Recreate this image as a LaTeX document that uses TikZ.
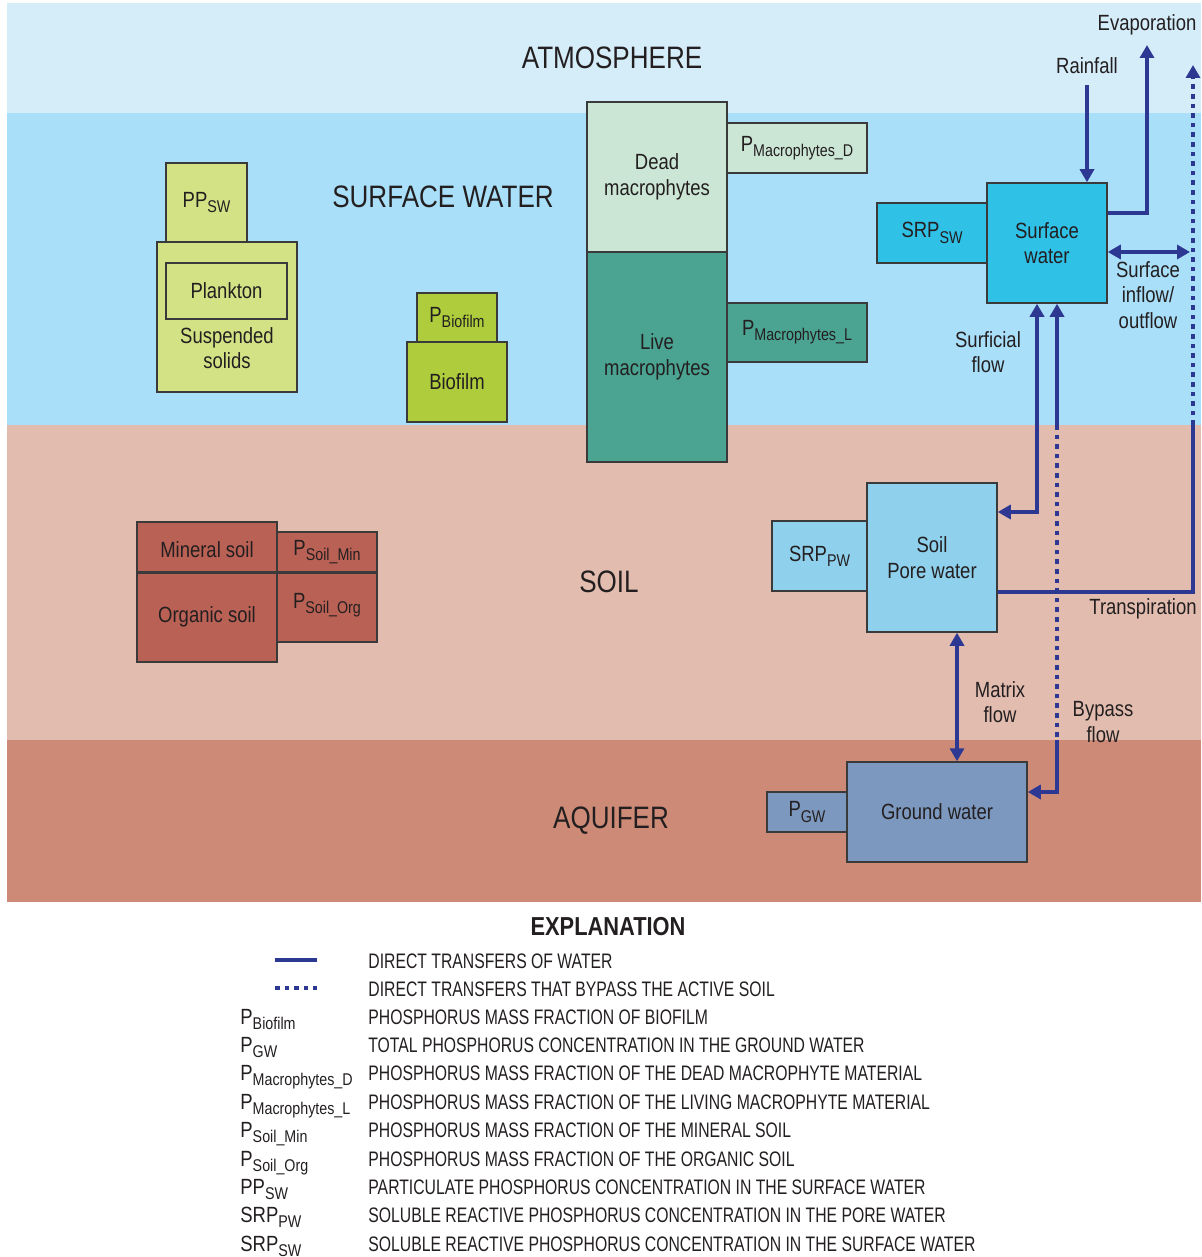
\documentclass[tikz,border=0pt]{standalone}
\usepackage{fontspec}
\setmainfont{Liberation Sans}[FakeStretch=0.84]
\newfontfamily\legfont{Liberation Sans}[FakeStretch=0.75]
\usepackage{tikz}
\usetikzlibrary{arrows.meta,positioning,calc}
\definecolor{atmo}{HTML}{D5ECF9}
\definecolor{swband}{HTML}{A9DFF9}
\definecolor{soilband}{HTML}{E2BDAF}
\definecolor{aqband}{HTML}{CD8B77}
\definecolor{flowblue}{HTML}{2D3893}
\definecolor{ink}{HTML}{231F20}
\definecolor{boxline}{HTML}{3A3A3A}
\definecolor{ssfill}{HTML}{D3E285}
\definecolor{biofill}{HTML}{AECC3B}
\definecolor{deadfill}{HTML}{CCE6D5}
\definecolor{livefill}{HTML}{4BA391}
\definecolor{swfill}{HTML}{30C1E7}
\definecolor{porefill}{HTML}{8FD0EC}
\definecolor{gwfill}{HTML}{7C98BE}
\definecolor{soilfill}{HTML}{BA6155}
\newcommand\lowsub[1]{\raisebox{-0.45ex}{\fontsize{8.5}{9}\selectfont #1}}

\begin{document}
\begin{tikzpicture}[
  x=0.5pt, y=-0.5pt,
  every node/.style = {font=\fontsize{11}{12.75}\selectfont, text=ink},
  box/.style   = {draw=boxline, line width=0.75pt, inner sep=0pt, align=center},
  zone/.style  = {font=\fontsize{15.5}{18}\selectfont},
  lbl/.style   = {align=center},
  flow/.style  = {draw=flowblue, line width=2pt},
  bypass/.style = {draw=flowblue, line width=2.2pt, dash pattern=on 2.3pt off 2.5pt},
  legtxt/.style = {anchor=base west, inner sep=0pt, font=\legfont\fontsize{10.5}{12}\selectfont},
  legsym/.style = {anchor=base west, inner sep=0pt},
  > = {Triangle[width=7pt,length=6.5pt]},
]
\useasboundingbox (0,0) rectangle (1201,1257);

%% ── Layers ───────────────────────────────────────────────────────────────────
\fill[atmo]     (7,3)   rectangle (1201,113);
\fill[swband]   (7,113) rectangle (1201,425);
\fill[soilband] (7,425) rectangle (1201,740);
\fill[aqband]   (7,740) rectangle (1201,902);

\node[zone] (atmoLbl) at (612,58)  {ATMOSPHERE};
\node[zone] (swLbl)   at (443,197) {SURFACE WATER};
\node[zone] (soilLbl) at (609,582) {SOIL};
\node[zone] (aqLbl)   at (611,821) {AQUIFER};

%% ── Suspended solids and biofilm ─────────────────────────────────────────────
\node[box, fill=ssfill, minimum width=40.5pt, minimum height=39.5pt]
  (ppsw) at (206.5,202.5) {PP\lowsub{SW}};
\node[box, fill=ssfill, minimum width=70pt, minimum height=75pt]
  (susp) at (227,317) {};
\node[box, fill=ssfill, minimum width=60.5pt, minimum height=28pt]
  (plank) at (226.5,291) {Plankton};
\node[lbl] (suspTxt) at (227,348) {Suspended\\solids};

\node[box, fill=biofill, minimum width=40pt, minimum height=24.5pt]
  (pbio) at (457,317.5) {P\lowsub{Biofilm}};
\node[box, fill=biofill, minimum width=50pt, minimum height=40pt]
  (bio) at (457,382) {Biofilm};

%% ── Macrophytes ──────────────────────────────────────────────────────────────
\node[box, fill=deadfill, minimum width=70pt, minimum height=75pt]
  (dead) at (657,177) {Dead\\macrophytes};
\node[box, fill=livefill, minimum width=70pt, minimum height=105pt]
  (live) at (657,357) {Live\\macrophytes};
\node[box, fill=deadfill, minimum width=70pt, minimum height=25pt]
  (pmd) at (797,148) {P\lowsub{Macrophytes\_D}};
\node[box, fill=livefill, minimum width=70pt, minimum height=29.5pt]
  (pml) at (797,332.5) {P\lowsub{Macrophytes\_L}};

%% ── Water compartments ───────────────────────────────────────────────────────
\node[box, fill=swfill, minimum width=55pt, minimum height=30pt]
  (srpsw) at (932,233) {SRP\lowsub{SW}};
\node[box, fill=swfill, minimum width=60pt, minimum height=60pt]
  (sw) at (1047,243) {Surface\\water};
\node[box, fill=porefill, minimum width=47.5pt, minimum height=35pt]
  (srppw) at (819.5,556) {SRP\lowsub{PW}};
\node[box, fill=porefill, minimum width=65pt, minimum height=74.5pt]
  (pore) at (932,557.5) {Soil\\Pore water};
\node[box, fill=gwfill, minimum width=40pt, minimum height=20pt]
  (pgw) at (807,812) {P\lowsub{GW}};
\node[box, fill=gwfill, minimum width=90pt, minimum height=50pt]
  (gw) at (937,812) {Ground water};

%% ── Soil ─────────────────────────────────────────────────────────────────────
\node[box, fill=soilfill, minimum width=70pt, minimum height=25pt, text height=11pt]
  (minsoil) at (207,547) {Mineral soil};
\node[box, fill=soilfill, minimum width=70pt, minimum height=45pt]
  (orgsoil) at (207,617) {Organic soil};
\node[box, fill=soilfill, minimum width=50pt, minimum height=20pt]
  (psmin) at (327,552) {P\lowsub{Soil\_Min}};
\node[box, fill=soilfill, minimum width=50pt, minimum height=35pt, text depth=6pt]
  (psorg) at (327,607) {P\lowsub{Soil\_Org}};
\draw[boxline, line width=1.2pt] (minsoil.south west) -- (psmin.south east);

%% ── Flow labels ──────────────────────────────────────────────────────────────
\node (evapLbl)  at (1147,25)  {Evaporation};
\node (rainLbl)  at (1087,66)  {Rainfall};
\node[lbl] (inoutLbl) at (1148,295) {Surface\\inflow/\\outflow};
\node[lbl] (surfLbl)  at (988,352)  {Surficial\\flow};
\node (transLbl) at (1143,609) {Transpiration};
\node[lbl] (matLbl)   at (1000,702) {Matrix\\flow};
\node[lbl] (bypLbl)   at (1103,722) {Bypass\\flow};

%% ── Flows ────────────────────────────────────────────────────────────────────
\coordinate (rainTop)  at (1087,85);
\coordinate (evapTop)  at (1147,45);
\coordinate (inoutEnd) at (1190,252);
\coordinate (surfBend) at (1037,512);
\coordinate (bySoil)   at (1057,425);
\coordinate (byAq)     at (1057,740);
\coordinate (byBend)   at (1057,792);
\coordinate (tpBend)   at (1193,592);
\coordinate (tpSoil)   at (1193,425);
\coordinate (tpTop)    at (1193,65);
\coordinate (matX)     at (957,700);

\draw[flow, ->] (rainTop) -- (rainTop |- sw.north);
\draw[flow, ->] ([yshift=15pt]sw.east) -| (evapTop);
\draw[flow, <->] (sw.east |- inoutEnd) -- (inoutEnd);
\draw[flow, <->] (pore.east |- surfBend) -- (surfBend) -- (surfBend |- sw.south);
\draw[flow, <-] (bySoil |- sw.south) -- (bySoil);
\draw[bypass] (bySoil) -- (byAq);
\draw[flow, ->] (byAq) -- (byBend) -- (gw.east |- byBend);
\draw[flow] (pore.east |- tpBend) -- (tpBend) -- (tpSoil);
\draw[bypass, ->] (tpSoil) -- (tpTop);
\draw[flow, <->] (matX |- pore.south) -- (matX |- gw.north);

%% ── Explanation ──────────────────────────────────────────────────────────────
\def\cSym{240}  % symbol column
\def\cTxt{368}  % description column
\node[font=\fontsize{13}{15}\selectfont\bfseries] (explLbl) at (608,927) {EXPLANATION};

\coordinate (solidA) at (275,960);
\coordinate (solidB) at (317,960);
\coordinate (dotA)   at (275,988);
\coordinate (dotB)   at (317,988);
\draw[flow] (solidA) -- (solidB);
\draw[bypass] (dotA) -- (dotB);

\node[legtxt] (l1)  at (\cTxt,968)  {DIRECT TRANSFERS OF WATER};
\node[legtxt] (l2)  at (\cTxt,996)  {DIRECT TRANSFERS THAT BYPASS THE ACTIVE SOIL};

\node[legsym] (s3)  at (\cSym,1024) {P\lowsub{Biofilm}};
\node[legtxt] (l3)  at (\cTxt,1024) {PHOSPHORUS MASS FRACTION OF BIOFILM};

\node[legsym] (s4)  at (\cSym,1052) {P\lowsub{GW}};
\node[legtxt] (l4)  at (\cTxt,1052) {TOTAL PHOSPHORUS CONCENTRATION IN THE GROUND WATER};

\node[legsym] (s5)  at (\cSym,1080) {P\lowsub{Macrophytes\_D}};
\node[legtxt] (l5)  at (\cTxt,1080) {PHOSPHORUS MASS FRACTION OF THE DEAD MACROPHYTE MATERIAL};

\node[legsym] (s6)  at (\cSym,1109) {P\lowsub{Macrophytes\_L}};
\node[legtxt] (l6)  at (\cTxt,1109) {PHOSPHORUS MASS FRACTION OF THE LIVING MACROPHYTE MATERIAL};

\node[legsym] (s7)  at (\cSym,1137) {P\lowsub{Soil\_Min}};
\node[legtxt] (l7)  at (\cTxt,1137) {PHOSPHORUS MASS FRACTION OF THE MINERAL SOIL};

\node[legsym] (s8)  at (\cSym,1166) {P\lowsub{Soil\_Org}};
\node[legtxt] (l8)  at (\cTxt,1166) {PHOSPHORUS MASS FRACTION OF THE ORGANIC SOIL};

\node[legsym] (s9)  at (\cSym,1194) {PP\lowsub{SW}};
\node[legtxt] (l9)  at (\cTxt,1194) {PARTICULATE PHOSPHORUS CONCENTRATION IN THE SURFACE WATER};

\node[legsym] (s10) at (\cSym,1222) {SRP\lowsub{PW}};
\node[legtxt] (l10) at (\cTxt,1222) {SOLUBLE REACTIVE PHOSPHORUS CONCENTRATION IN THE PORE WATER};

\node[legsym] (s11) at (\cSym,1251) {SRP\lowsub{SW}};
\node[legtxt] (l11) at (\cTxt,1251) {SOLUBLE REACTIVE PHOSPHORUS CONCENTRATION IN THE SURFACE WATER};

\end{tikzpicture}
\end{document}
